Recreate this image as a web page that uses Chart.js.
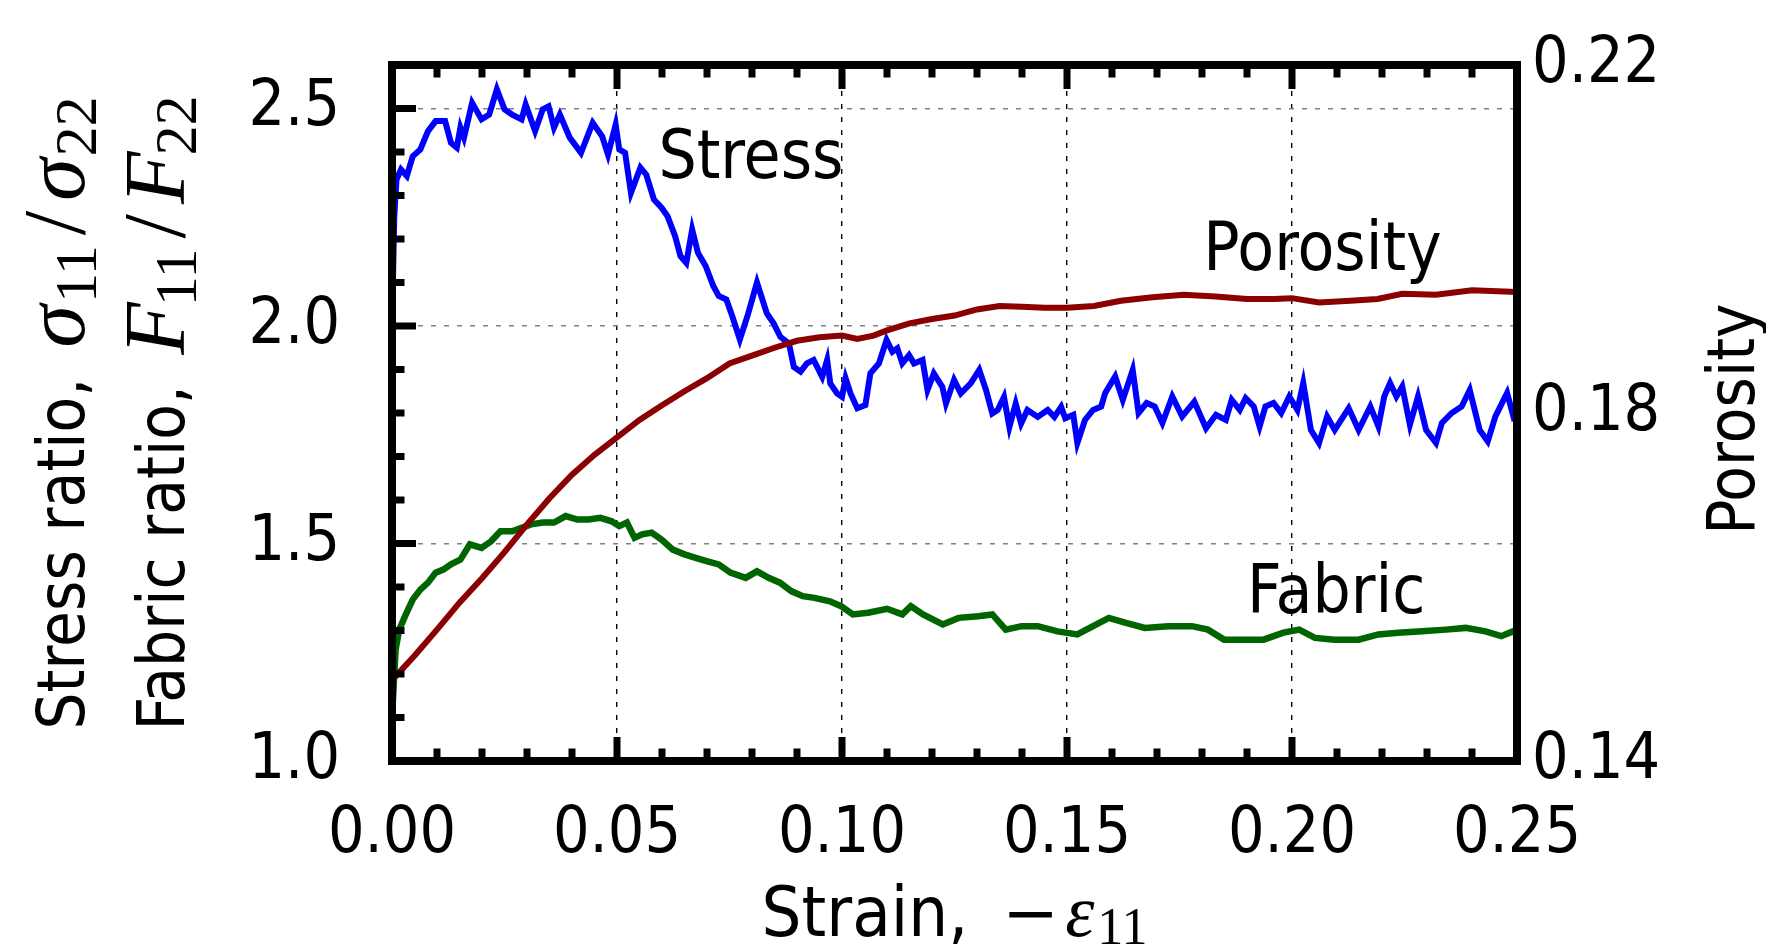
<!DOCTYPE html>
<html><head><meta charset="utf-8">
<script src="https://cdn.jsdelivr.net/npm/chart.js@4.4.0/dist/chart.umd.min.js"></script>
<style>html,body{margin:0;padding:0;background:#fff;overflow:hidden}canvas{display:block}</style>
</head><body>
<canvas id="c" width="1766" height="946"></canvas>
<script>
// ---------- data ----------
const seriesNames = ['Stress', 'Porosity', 'Fabric'];

const stressStrain = [0,0.0005,0.001,0.002,0.0033,0.0046,0.0063,0.008,0.0097,0.0118,
0.0131,0.0144,0.0152,0.016,0.0178,0.0199,0.0216,0.0233,0.025,0.0267,
0.0288,0.0297,0.0318,0.0335,0.0348,0.036,0.0373,0.0395,0.042,0.0446,
0.0467,0.048,0.0497,0.0505,0.0518,0.0531,0.0552,0.0565,0.0582,0.0599,
0.0612,0.0629,0.0641,0.0654,0.0667,0.068,0.0697,0.0714,0.0726,0.0743,
0.0756,0.0773,0.079,0.0811,0.0833,0.0848,0.0863,0.0882,0.0893,0.0908,
0.0922,0.0937,0.0956,0.0967,0.0974,0.0989,0.1,0.1008,0.1019,0.1034,
0.1052,0.1063,0.1082,0.1099,0.1112,0.1123,0.1134,0.1149,0.116,0.1179,
0.119,0.1204,0.1223,0.1231,0.1249,0.1264,0.1286,0.1305,0.132,0.1334,
0.1346,0.136,0.1372,0.1386,0.1398,0.1412,0.1435,0.1457,0.1472,0.1487,
0.1496,0.1514,0.1523,0.154,0.1558,0.1576,0.1585,0.1607,0.1624,0.1646,
0.1659,0.1677,0.1695,0.1712,0.1734,0.1756,0.1783,0.1809,0.1831,0.1853,
0.1866,0.1884,0.1897,0.1915,0.1928,0.1941,0.1959,0.1976,0.1994,0.2012,
0.2025,0.2042,0.206,0.2078,0.2095,0.2126,0.2148,0.2174,0.2192,0.2205,
0.2218,0.2232,0.2245,0.2262,0.228,0.2298,0.232,0.2333,0.2355,0.2377,
0.2395,0.2417,0.2435,0.2452,0.2478,0.2492,0.25];
const stressRatio = [2.00,2.25,2.337,2.36,2.345,2.39,2.406,2.448,2.471,2.471,
2.421,2.41,2.456,2.433,2.513,2.475,2.486,2.544,2.498,2.486,
2.475,2.509,2.448,2.498,2.505,2.456,2.486,2.433,2.398,2.467,
2.436,2.394,2.463,2.406,2.398,2.306,2.364,2.348,2.291,2.272,
2.253,2.207,2.161,2.145,2.222,2.168,2.138,2.092,2.069,2.061,
2.023,1.969,2.023,2.1,2.029,2.006,1.975,1.96,1.906,1.895,
1.914,1.922,1.883,1.922,1.868,1.845,1.837,1.88,1.845,1.811,
1.818,1.891,1.914,1.968,1.941,1.949,1.914,1.933,1.914,1.922,
1.853,1.891,1.86,1.822,1.876,1.845,1.868,1.899,1.853,1.799,
1.807,1.837,1.768,1.822,1.776,1.807,1.791,1.807,1.791,1.814,
1.788,1.796,1.731,1.784,1.807,1.815,1.846,1.884,1.83,1.899,
1.8,1.823,1.815,1.777,1.838,1.792,1.826,1.765,1.796,1.784,
1.83,1.807,1.834,1.815,1.769,1.815,1.823,1.8,1.838,1.807,
1.869,1.761,1.731,1.792,1.761,1.811,1.761,1.815,1.769,1.838,
1.869,1.838,1.861,1.773,1.838,1.761,1.731,1.777,1.8,1.815,
1.853,1.761,1.735,1.792,1.846,1.792,1.80];

const fabricStrain = [0,0.0008,0.0016,0.0029,0.0046,0.0063,0.008,0.0097,0.0114,0.0131,
0.0152,0.0173,0.0199,0.022,0.0241,0.0267,0.0288,0.0309,0.0335,0.036,
0.0386,0.0412,0.0437,0.0463,0.0488,0.0505,0.0522,0.0539,0.0556,0.0577,
0.0599,0.0624,0.065,0.0675,0.0701,0.0726,0.0752,0.0786,0.0811,0.0837,
0.0862,0.0888,0.0913,0.0939,0.0973,0.0998,0.1024,0.1058,0.11,0.1134,
0.1153,0.118,0.1224,0.1259,0.1303,0.1334,0.1364,0.1399,0.1435,0.1479,
0.1523,0.1558,0.1593,0.1629,0.1673,0.1725,0.1778,0.1813,0.1849,0.1893,
0.1937,0.1981,0.2016,0.2051,0.2095,0.2148,0.2192,0.2236,0.2289,0.2342,
0.2386,0.243,0.2465,0.2491,0.25];
const fabricRatio = [1.10,1.256,1.302,1.333,1.371,1.394,1.41,1.433,1.44,1.452,
1.463,1.498,1.49,1.505,1.528,1.528,1.536,1.544,1.548,1.548,
1.563,1.555,1.555,1.559,1.551,1.54,1.548,1.513,1.521,1.525,
1.509,1.486,1.475,1.467,1.459,1.452,1.433,1.421,1.436,1.421,
1.41,1.39,1.379,1.375,1.367,1.356,1.337,1.341,1.35,1.337,
1.356,1.337,1.314,1.329,1.333,1.337,1.302,1.31,1.31,1.298,
1.291,1.31,1.329,1.318,1.306,1.31,1.31,1.302,1.279,1.279,
1.279,1.295,1.302,1.283,1.279,1.279,1.291,1.295,1.298,1.302,
1.306,1.298,1.287,1.298,1.29];

const porosityStrain = [0,0.005,0.01,0.015,0.02,0.025,0.03,0.035,0.04,0.045,
0.05,0.055,0.06,0.065,0.07,0.075,0.08,0.085,0.09,0.095,
0.1,0.1034,0.107,0.11,0.115,0.12,0.125,0.13,0.135,0.14,
0.145,0.15,0.156,0.162,0.169,0.176,0.183,0.19,0.196,0.2,
0.206,0.213,0.219,0.2245,0.232,0.24,0.25];
const porosityValues = [0.1493,0.1521,0.1551,0.1582,0.1610,0.1640,0.1672,0.1702,0.1729,0.1752,
0.1772,0.1792,0.1809,0.1825,0.1840,0.1857,0.1866,0.1875,0.1883,0.1887,
0.1889,0.1885,0.1889,0.1895,0.1903,0.1908,0.1912,0.1919,0.1923,0.1922,
0.1921,0.1921,0.1923,0.1929,0.1933,0.1936,0.1934,0.1931,0.1931,0.1932,
0.1927,0.1929,0.1931,0.1937,0.1936,0.1941,0.1939];

// ---------- ticks ----------
const xTickValues = [0, 0.05, 0.10, 0.15, 0.20, 0.25];
const xTickLabels = ['0.00', '0.05', '0.10', '0.15', '0.20', '0.25'];
const xMinorTicks = [0.01,0.02,0.03,0.04,0.06,0.07,0.08,0.09,0.11,0.12,0.13,0.14,0.16,0.17,0.18,0.19,0.21,0.22,0.23,0.24];
const yTickValues = [1.0, 1.5, 2.0, 2.5];
const yTickLabels = ['1.0', '1.5', '2.0', '2.5'];
const yMinorTicks = [1.1,1.2,1.3,1.4,1.6,1.7,1.8,1.9,2.1,2.2,2.3,2.4];
const y2TickValues = [0.14, 0.18, 0.22];
const y2TickLabels = ['0.14', '0.18', '0.22'];

// ---------- styles ----------
const SANS = "'DejaVu Sans Condensed','DejaVu Sans',sans-serif";
const SERIF = "'Liberation Serif','DejaVu Serif',serif";
const FS = 64;
const FA = 67;

const annotations = [
  {text: 'Stress', x: 0.0592, y: 2.340},
  {text: 'Porosity', x: 0.1803, y: 2.129},
  {text: 'Fabric', x: 0.1900, y: 1.340}
];

function pts(xs, ys) { return xs.map((v, i) => ({x: v, y: ys[i]})); }

function segWidth(ctx, segs) {
  let w = 0;
  for (const s of segs) { ctx.font = s.font; w += ctx.measureText(s.t).width + (s.gap || 0); }
  return w;
}
function drawSegs(ctx, segs, x, y) {
  let cx = x;
  for (const s of segs) {
    ctx.font = s.font;
    ctx.fillText(s.t, cx, y + (s.dy || 0));
    cx += ctx.measureText(s.t).width + (s.gap || 0);
  }
}

const framePlugin = {
  id: 'frame',
  afterDatasetsDraw(chart) {
    const {ctx, chartArea: a, scales} = chart;
    const x = scales.x, y = scales.y;
    ctx.save();
    ctx.strokeStyle = '#000';
    ctx.lineCap = 'butt';
    ctx.lineWidth = 7;
    const line = (x1, y1, x2, y2) => { ctx.beginPath(); ctx.moveTo(x1, y1); ctx.lineTo(x2, y2); ctx.stroke(); };
    xTickValues.forEach(v => { const p = x.getPixelForValue(v); line(p, a.bottom, p, a.bottom - 24); line(p, a.top, p, a.top + 24); });
    xMinorTicks.forEach(v => { const p = x.getPixelForValue(v); line(p, a.bottom, p, a.bottom - 12.5); line(p, a.top, p, a.top + 12.5); });
    yTickValues.forEach(v => { const p = y.getPixelForValue(v); line(a.left, p, a.left + 24, p); });
    yMinorTicks.forEach(v => { const p = y.getPixelForValue(v); line(a.left, p, a.left + 12.5, p); });
    ctx.lineWidth = 8;
    ctx.lineJoin = 'miter';
    ctx.strokeRect(a.left, a.top, a.right - a.left, a.bottom - a.top);
    ctx.restore();
  },
  afterDraw(chart) {
    const {ctx, chartArea: a, scales} = chart;
    const x = scales.x, y = scales.y;
    ctx.save();
    ctx.fillStyle = '#000';
    ctx.textBaseline = 'alphabetic';
    ctx.textAlign = 'left';
    // annotations
    ctx.font = `${FA}px ${SANS}`;
    annotations.forEach(an => {
      ctx.fillText(an.text, x.getPixelForValue(an.x), y.getPixelForValue(an.y));
    });
    // x title
    const xt = [
      {t: 'Strain,', font: `70px ${SANS}`, gap: 34},
      {t: '\u2212', font: `68px 'DejaVu Sans',sans-serif`, gap: 6},
      {t: '\u03b5', font: `italic 74px ${SERIF}`, gap: 3},
      {t: '11', font: `52px ${SERIF}`, dy: 8}
    ];
    const cx = (a.left + a.right) / 2;
    drawSegs(ctx, xt, cx - segWidth(ctx, xt) / 2, 936);
    // left titles (rotated)
    const cy = (a.top + a.bottom) / 2;
    const l1 = [
      {t: 'Stress ratio, ', font: `65px ${SANS}`, gap: 12},
      {t: '\u03c3', font: `italic 86px ${SERIF}`, gap: 2},
      {t: '11', font: `60px ${SERIF}`, dy: 12, gap: 10},
      {t: '/', font: `88px ${SERIF}`, gap: 10},
      {t: '\u03c3', font: `italic 86px ${SERIF}`, gap: 2},
      {t: '22', font: `60px ${SERIF}`, dy: 12}
    ];
    const l2 = [
      {t: 'Fabric ratio, ', font: `65px ${SANS}`, gap: 12},
      {t: 'F', font: `italic 86px ${SERIF}`, gap: -4},
      {t: '11', font: `60px ${SERIF}`, dy: 12, gap: 10},
      {t: '/', font: `88px ${SERIF}`, gap: 10},
      {t: 'F', font: `italic 86px ${SERIF}`, gap: -4},
      {t: '22', font: `60px ${SERIF}`, dy: 12}
    ];
    [[l1, 84], [l2, 184]].forEach(([segs, bx]) => {
      ctx.save();
      ctx.translate(bx, cy);
      ctx.rotate(-Math.PI / 2);
      drawSegs(ctx, segs, -segWidth(ctx, segs) / 2, 0);
      ctx.restore();
    });
    // right title
    ctx.save();
    ctx.translate(1754, cy + 6);
    ctx.rotate(-Math.PI / 2);
    ctx.font = `65px ${SANS}`;
    ctx.textAlign = 'center';
    ctx.fillText('Porosity', 0, 0);
    ctx.restore();
    ctx.restore();
  }
};

const tickFont = {family: SANS, size: FS};
const noPadY = s => { s.paddingTop = 0; s.paddingBottom = 0; };

new Chart(document.getElementById('c'), {
  type: 'line',
  data: {
    datasets: [
      {label: seriesNames[1], data: pts(porosityStrain, porosityValues), yAxisID: 'y2',
       borderColor: '#8b0000', borderWidth: 6, pointRadius: 0, tension: 0, fill: false},
      {label: seriesNames[0], data: pts(stressStrain, stressRatio), yAxisID: 'y',
       borderColor: '#0000ff', borderWidth: 6, pointRadius: 0, tension: 0, fill: false},
      {label: seriesNames[2], data: pts(fabricStrain, fabricRatio), yAxisID: 'y',
       borderColor: '#006400', borderWidth: 6.5, pointRadius: 0, tension: 0, fill: false}
    ]
  },
  options: {
    responsive: false,
    animation: false,
    devicePixelRatio: 1,
    layout: {padding: {top: 65, left: 0, right: 0, bottom: 0}},
    plugins: {legend: {display: false}, tooltip: {enabled: false}},
    scales: {
      x: {
        type: 'linear', position: 'bottom', min: 0, max: 0.25,
        afterBuildTicks: s => { s.ticks = xTickValues.map(v => ({value: v})); },
        afterFit: s => { s.height = 185; s.paddingLeft = 0; s.paddingRight = 0; },
        grid: {display: true, drawTicks: false, color: '#000', lineWidth: 1.4},
        border: {display: false, dash: [5, 8]},
        ticks: {padding: 36, font: tickFont, color: '#000', maxRotation: 0, autoSkip: false,
                callback: (v, i) => xTickLabels[i]}
      },
      y: {
        type: 'linear', position: 'left', min: 1.0, max: 2.6,
        afterBuildTicks: s => { s.ticks = yTickValues.map(v => ({value: v})); },
        afterFit: s => { s.width = 392; noPadY(s); },
        grid: {display: true, drawTicks: false, color: '#808080', lineWidth: 1.6},
        border: {display: false, dash: [5, 8]},
        ticks: {padding: 52, font: tickFont, color: '#000', autoSkip: false,
                callback: (v, i) => yTickLabels[i]}
      },
      y2: {
        type: 'linear', position: 'right', min: 0.14, max: 0.22,
        afterBuildTicks: s => { s.ticks = y2TickValues.map(v => ({value: v})); },
        afterFit: s => { s.width = 249; noPadY(s); },
        grid: {display: false, drawTicks: false},
        border: {display: false},
        ticks: {padding: 15, font: tickFont, color: '#000', autoSkip: false,
                callback: (v, i) => y2TickLabels[i]}
      }
    }
  },
  plugins: [framePlugin]
});
</script>
</body></html>
